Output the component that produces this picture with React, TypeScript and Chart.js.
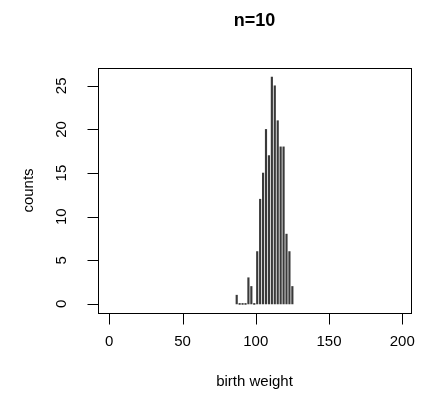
import React, { useEffect, useRef } from "react";
import { Chart, registerables } from "chart.js";

Chart.register(...registerables);

const mids = [87, 89, 91, 93, 95, 97, 99, 101, 103, 105, 107, 109, 111, 113, 115, 117, 119, 121, 123, 125];
const counts = [1, 0, 0, 0, 3, 2, 0, 6, 12, 15, 20, 17, 26, 25, 21, 18, 18, 8, 6, 2];
const xTicks = [0, 50, 100, 150, 200];
const yTicks = [0, 5, 10, 15, 20, 25];
const titleText = "n=10";
const xLabel = "birth weight";
const yLabel = "counts";

const FONT = "'Liberation Sans', Arial, Helvetica, sans-serif";

const rFrame = {
  id: "rFrame",
  afterDraw(chart: any) {
    const { ctx, chartArea } = chart;
    const xs = chart.scales.x;
    const ys = chart.scales.y;
    const { left, right, top, bottom } = chartArea;
    ctx.save();
    ctx.strokeStyle = "#000";
    ctx.lineWidth = 1;
    ctx.strokeRect(Math.round(left) + 0.5, Math.round(top) + 0.5, Math.round(right - left), Math.round(bottom - top));
    const tl = 11;
    ctx.beginPath();
    xTicks.forEach((v) => {
      const px = Math.round(xs.getPixelForValue(v)) + 0.5;
      ctx.moveTo(px, Math.round(bottom) + 0.5);
      ctx.lineTo(px, Math.round(bottom) + 0.5 + tl);
    });
    yTicks.forEach((v) => {
      const py = Math.round(ys.getPixelForValue(v)) + 0.5;
      ctx.moveTo(Math.round(left) + 0.5, py);
      ctx.lineTo(Math.round(left) + 0.5 - tl, py);
    });
    ctx.stroke();
    ctx.fillStyle = "#000";
    ctx.font = `15px ${FONT}`;
    ctx.textAlign = "center";
    ctx.textBaseline = "middle";
    xTicks.forEach((v) => {
      ctx.fillText(String(v), xs.getPixelForValue(v), 342);
    });
    yTicks.forEach((v) => {
      ctx.save();
      ctx.translate(62, ys.getPixelForValue(v));
      ctx.rotate(-Math.PI / 2);
      ctx.fillText(String(v), 0, 0);
      ctx.restore();
    });
    const cx = (left + right) / 2;
    const cy = (top + bottom) / 2;
    ctx.fillText(xLabel, cx, 382);
    ctx.save();
    ctx.translate(29, cy);
    ctx.rotate(-Math.PI / 2);
    ctx.fillText(yLabel, 0, 0);
    ctx.restore();
    ctx.font = `bold 18px ${FONT}`;
    ctx.fillText(titleText, cx, 21);
    ctx.restore();
  },
};

export default function App() {
  const ref = useRef<HTMLCanvasElement | null>(null);
  useEffect(() => {
    if (!ref.current) return;
    const chart = new Chart(ref.current, {
      type: "bar",
      data: {
        datasets: [
          {
            data: mids.map((m, i) => ({ x: m, y: counts[i] })),
            backgroundColor: "#3a3a3a",
            borderWidth: 0,
            barThickness: 1.5,
            minBarLength: 1,
          },
        ],
      },
      options: {
        responsive: false,
        animation: false,
        events: [],
        layout: { padding: { left: 98, right: 11, top: 68, bottom: 95 } },
        plugins: { legend: { display: false }, tooltip: { enabled: false }, title: { display: false } },
        scales: {
          x: { type: "linear", display: false, min: -7.7, max: 206, offset: false },
          y: { type: "linear", display: false, min: -1.04, max: 27.04 },
        },
      },
      plugins: [rFrame],
    });
    return () => chart.destroy();
  }, []);
  return (
    <div style={{ position: "fixed", left: 0, top: 0, width: 422, height: 408, background: "#fff" }}>
      <canvas ref={ref} width={422} height={408} style={{ width: 422, height: 408, display: "block" }} />
    </div>
  );
}
